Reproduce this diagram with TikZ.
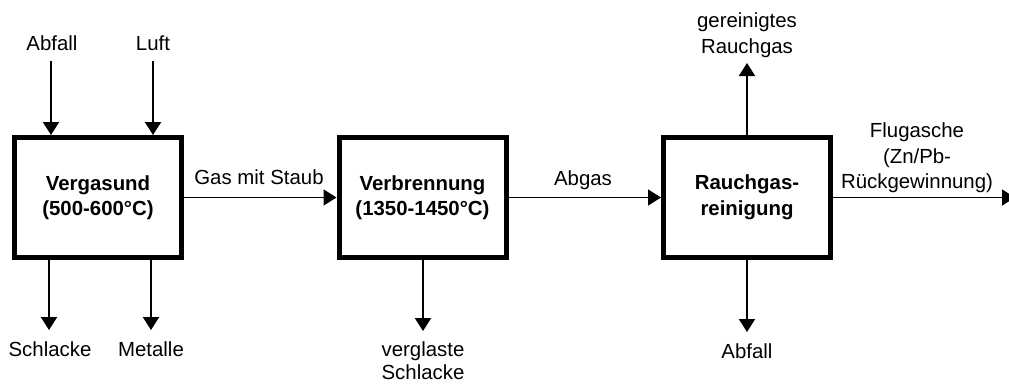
\documentclass[tikz,border=0pt]{standalone}
\usepackage{fontspec}
\setmainfont{Liberation Sans}
\usetikzlibrary{arrows.meta}

\begin{document}
\begin{tikzpicture}[x=1pt,y=1pt,
  every node/.style={font=\fontsize{20.4}{25.5}\selectfont},
  stage/.style={draw, line width=5pt, minimum width=167pt, minimum height=120pt,
    inner sep=0pt, outer sep=2.5pt, align=center, font=\fontsize{20.4}{25.5}\selectfont\bfseries},
  lbl/.style={inner sep=0pt, align=center},
  flowv/.style={line width=2pt, -{Triangle[width=16pt,length=13pt]}},
  flowh/.style={line width=1.5pt, -{Triangle[width=16pt,length=13pt]}}]
\useasboundingbox (0,0) rectangle (1009,-383);

% process stages
\node[stage] (v) at (98,-197.5)    {Vergasund\\(500-600°C)};
\node[stage] (b) at (422.5,-197.5) {Verbrennung\\(1350-1450°C)};
\node[stage] (r) at (747,-197.5)   {Rauchgas-\\reinigung};

% feeds into gasification
\node[lbl, anchor=base] (abfallin) at (52,-50) {Abfall};
\node[lbl, anchor=base] (luft) at (153,-50) {Luft};
\coordinate (in1) at (51,-61);
\coordinate (in2) at (153,-61);
\draw[flowv] (in1) -- (in1 |- v.north);
\draw[flowv] (in2) -- (in2 |- v.north);

% residues of gasification
\coordinate (o1) at (49,-330);
\coordinate (o2) at (151,-330);
\draw[flowv] (o1 |- v.south) -- (o1);
\draw[flowv] (o2 |- v.south) -- (o2);
\node[lbl, anchor=base] (schlacke) at (50,-356) {Schlacke};
\node[lbl, anchor=base] (metalle) at (151,-356) {Metalle};

% residue of combustion
\coordinate (o3) at (423,-331);
\draw[flowv] (o3 |- b.south) -- (o3);
\node[lbl, anchor=north, font=\fontsize{20.4}{23}\selectfont] (glas) at (423,-342) {verglaste\\Schlacke};

% outputs of flue gas cleaning
\coordinate (o4) at (747,-63);
\draw[flowv] (r.north) -- (o4);
\node[lbl, anchor=north] (rein) at (747,-13) {gereinigtes\\Rauchgas};
\coordinate (o5) at (747,-332);
\draw[flowv] (r.south) -- (o5);
\node[lbl, anchor=base] (abfallout) at (747,-358) {Abfall};

% main gas path
\draw[flowh] (v.east) -- (b.west);
\node[lbl, anchor=base] (gas) at (259,-184) {Gas mit Staub};
\draw[flowh] (b.east) -- (r.west);
\node[lbl, anchor=base] (abgas) at (583,-185) {Abgas};
\coordinate (o6) at (1015,-197.5);
\draw[flowh] (r.east) -- (o6);
\node[lbl, anchor=north] (flug) at (917,-123) {Flugasche\\(Zn/Pb-\\Rückgewinnung)};
\end{tikzpicture}
\end{document}
